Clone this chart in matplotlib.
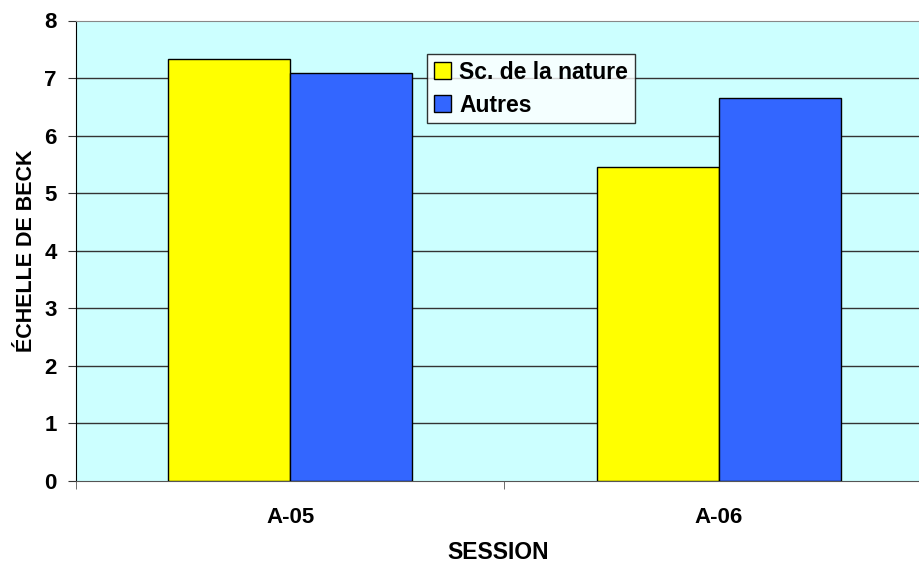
import matplotlib.pyplot as plt
import numpy as np

plt.rcParams['font.family'] = ['Liberation Sans', 'DejaVu Sans']
plt.rcParams['font.weight'] = 'bold'

sessions = ['A-05', 'A-06']
series_names = ['Sc. de la nature', 'Autres']
sc_nature = [7.33, 5.45]
autres = [7.08, 6.65]
colors = ['#FFFF00', '#3366FF']

fig = plt.figure(figsize=(9.2, 5.63), dpi=100)
ax = fig.add_axes([76 / 920, 82 / 563, 844 / 920, 460.5 / 563])
ax.set_facecolor('#CCFFFF')

x = np.arange(len(sessions))
w = 0.285
ax.bar(x - w / 2, sc_nature, w, color=colors[0], edgecolor='black', linewidth=1,
       label=series_names[0], zorder=3)
ax.bar(x + w / 2, autres, w, color=colors[1], edgecolor='black', linewidth=1,
       label=series_names[1], zorder=3)

ax.set_ylim(0, 8)
ax.set_xlim(-0.5, 1.47)
ax.set_yticks(range(0, 9))
for v in range(1, 8):
    ax.axhline(v, color='#333333', linewidth=1, zorder=1)

ax.set_xticks(x)
ax.set_xticklabels(sessions, fontsize=16, fontweight='bold')
ax.set_xticks([-0.5, 0.5], minor=True)
ax.tick_params(axis='x', which='major', length=0, pad=19)
ax.tick_params(axis='x', which='minor', length=6, color='#555555')
ax.tick_params(axis='y', length=6, color='#333333', labelsize=16, pad=8)
for lab in ax.get_yticklabels():
    lab.set_fontweight('bold')

ax.spines['right'].set_visible(False)
ax.spines['top'].set_color('#888888')
ax.spines['left'].set_color('black')
ax.spines['bottom'].set_color('#555555')

ax.set_xlabel('SESSION', fontsize=16.5, fontweight='bold', labelpad=9)
ax.set_ylabel('ÉCHELLE DE BECK', fontsize=15.5, fontweight='bold', labelpad=5)

leg = ax.legend(loc='upper left', bbox_to_anchor=((427 - 76) / 844, (481 - 54) / 460.5),
                fontsize=16.5, frameon=True, fancybox=False, edgecolor='black',
                handlelength=0.75, handleheight=0.75, handletextpad=0.35,
                borderpad=0.3, labelspacing=0.42, borderaxespad=0)
leg.get_frame().set_linewidth(1)
for t in leg.get_texts():
    t.set_fontweight('bold')

fig.savefig('out.png', dpi=100)
